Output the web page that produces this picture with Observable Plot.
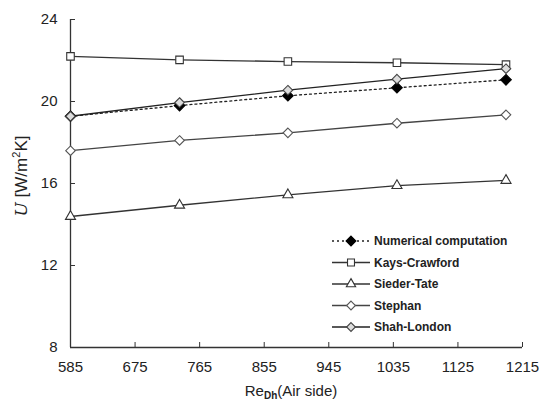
<!DOCTYPE html>
<html>
<head>
<meta charset="utf-8">
<script src="https://cdn.jsdelivr.net/npm/d3@7"></script>
<script src="https://cdn.jsdelivr.net/npm/@observablehq/plot@0.6"></script>
<style>
  html, body { margin: 0; padding: 0; background: #fff; }
  #chart { width: 549px; height: 401px; }
</style>
</head>
<body>
<div id="chart"></div>
<script>
// ---- data ----
const re = [585, 737, 888, 1040, 1192];
const numerical = [19.28, 19.8, 20.28, 20.67, 21.06];
const kaysCrawford = [22.2, 22.03, 21.95, 21.89, 21.8];
const siederTate = [14.39, 14.94, 15.45, 15.9, 16.15];
const stephan = [17.6, 18.1, 18.47, 18.94, 19.35];
const shahLondon = [19.28, 19.95, 20.55, 21.09, 21.6];

const seriesNames = ["Numerical computation", "Kays-Crawford", "Sieder-Tate", "Stephan", "Shah-London"];
const seriesValues = [numerical, kaysCrawford, siederTate, stephan, shahLondon];

const xTicks = [585, 675, 765, 855, 945, 1035, 1125, 1215];
const yTicks = [8, 12, 16, 20, 24];

// ---- styles ----
const styles = {
  "Numerical computation": {symbol: "diamond2", fill: "#000", stroke: "#000", dash: "2,3", r: 4.8, lineStroke: "#222"},
  "Kays-Crawford": {symbol: "square2", fill: "#fff", stroke: "#333", dash: null, r: 4.8, lineStroke: "#333"},
  "Sieder-Tate": {symbol: "triangle2", fill: "#fff", stroke: "#333", dash: null, r: 4.8, lineStroke: "#333"},
  "Stephan": {symbol: "diamond2", fill: "#fff", stroke: "#555", dash: null, r: 4.3, lineStroke: "#444"},
  "Shah-London": {symbol: "diamond2", fill: "#ddd", stroke: "#444", dash: null, r: 4.3, lineStroke: "#222"}
};

const rows = [];
seriesNames.forEach((name, i) => {
  re.forEach((x, j) => rows.push({series: name, x, y: seriesValues[i][j]}));
});

const marks = [];
seriesNames.forEach(name => {
  const s = styles[name];
  const d = rows.filter(r => r.series === name);
  marks.push(Plot.line(d, {x: "x", y: "y", stroke: s.lineStroke, strokeWidth: 1.3, strokeDasharray: s.dash}));
});
seriesNames.forEach(name => {
  const s = styles[name];
  const d = rows.filter(r => r.series === name);
  marks.push(Plot.dot(d, {x: "x", y: "y", symbol: () => s.symbol, fill: s.fill, stroke: s.stroke, strokeWidth: 1.1, r: s.r}));
});

const chart = Plot.plot({
  width: 549,
  height: 401,
  marginLeft: 70,
  marginRight: 27,
  marginTop: 19,
  marginBottom: 54,
  style: {fontFamily: "'Liberation Sans', Arial, sans-serif", background: "#fff", color: "#222"},
  x: {domain: [585, 1215]},
  y: {domain: [8, 24]},
  symbol: {type: "identity"},
  marks: [
    Plot.ruleY([8], {stroke: "#333", strokeWidth: 1.3}),
    Plot.ruleX([585], {stroke: "#333", strokeWidth: 1.3}),
    Plot.axisX({ticks: xTicks, tickSize: -5, tickPadding: 19, tickFormat: d => String(d), fontSize: 15, label: null, stroke: "#333"}),
    Plot.axisY({ticks: yTicks, tickSize: -5, tickPadding: 18, tickFormat: d => String(d), fontSize: 15, label: null, stroke: "#333"}),
    ...marks
  ]
});

document.getElementById("chart").appendChild(chart);

// ---- axis titles and legend (layout only) ----
const svg = d3.select(chart);
const font = "'Liberation Sans', Arial, sans-serif";

const xl = svg.append("text")
  .attr("x", 291).attr("y", 396)
  .attr("text-anchor", "middle")
  .attr("font-family", font).attr("font-size", 15).attr("fill", "#222");
xl.append("tspan").text("Re");
xl.append("tspan").attr("font-size", 10).attr("font-weight", "bold").attr("dy", 3).text("Dh");
xl.append("tspan").attr("dy", -3).text("(Air side)");

const yl = svg.append("text")
  .attr("transform", "translate(27,176) rotate(-90)")
  .attr("text-anchor", "middle")
  .attr("font-family", font).attr("font-size", 17).attr("fill", "#222");
yl.append("tspan").attr("font-style", "italic").attr("font-family", "'DejaVu Serif', serif").text("U");
yl.append("tspan").text(" [W/m");
yl.append("tspan").attr("font-size", 11).attr("dy", -7).text("2");
yl.append("tspan").attr("dy", 7).text("K]");

const legend = svg.append("g");
const symbolMap = {diamond2: d3.symbolDiamond2, square2: d3.symbolSquare2, triangle2: d3.symbolTriangle2};
seriesNames.forEach((name, i) => {
  const s = styles[name];
  const y = 241 + i * 21.5;
  legend.append("line").attr("x1", 332).attr("x2", 370).attr("y1", y).attr("y2", y)
    .attr("stroke", s.lineStroke).attr("stroke-width", 1.3).attr("stroke-dasharray", s.dash);
  legend.append("path")
    .attr("d", d3.symbol(symbolMap[s.symbol], Math.PI * s.r * s.r * 0.85)())
    .attr("transform", `translate(351,${y})`)
    .attr("fill", s.fill).attr("stroke", s.stroke).attr("stroke-width", 1.1);
  legend.append("text").attr("x", 374).attr("y", y).attr("dy", "0.35em")
    .attr("text-anchor", "start")
    .attr("font-family", font).attr("font-size", 12).attr("font-weight", "bold").attr("fill", "#222")
    .text(name);
});
</script>
</body>
</html>
